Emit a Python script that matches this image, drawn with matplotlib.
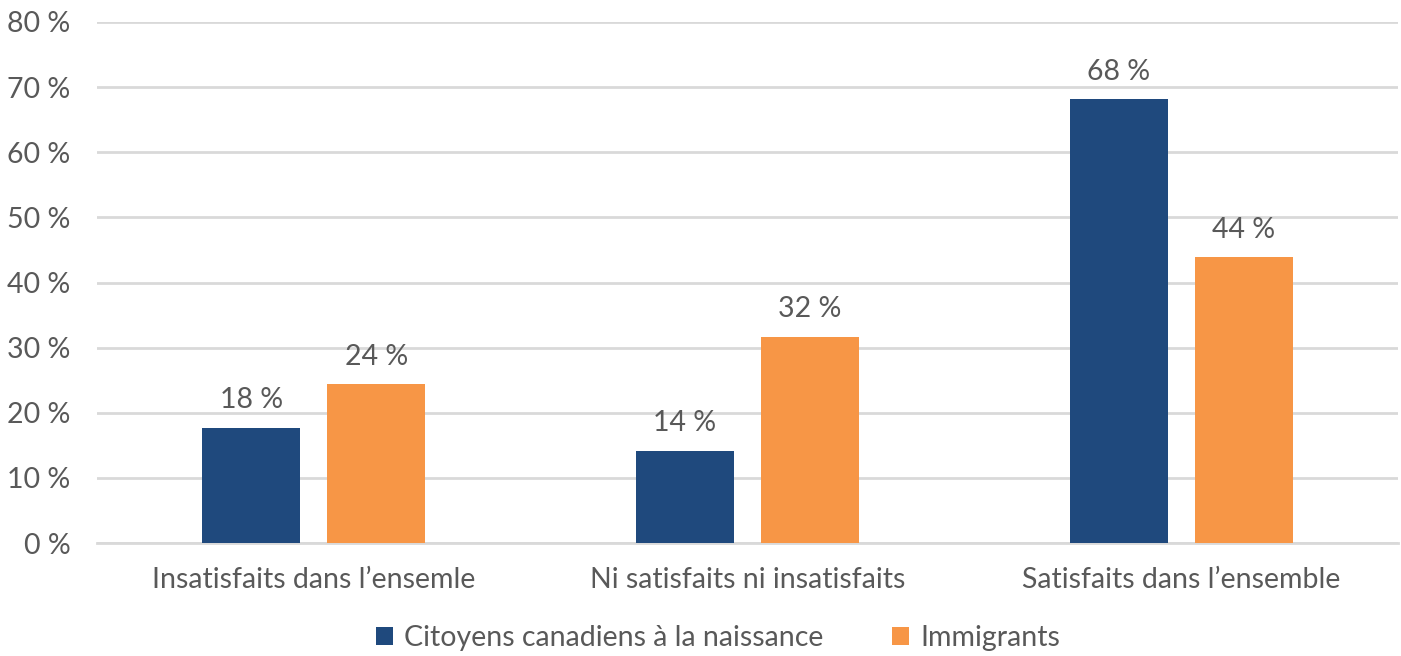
import numpy as np
import matplotlib.pyplot as plt

categories = ["Insatisfaits dans l\u2019ensemle", "Ni satisfaits ni insatisfaits", "Satisfaits dans l\u2019ensemble"]
series_names = ["Citoyens canadiens \u00e0 la naissance", "Immigrants"]
citoyens = [17.7, 14.2, 68.2]
immigrants = [24.4, 31.7, 43.9]
labels_cit = ["18 %", "14 %", "68 %"]
labels_imm = ["24 %", "32 %", "44 %"]
yticks = [0, 10, 20, 30, 40, 50, 60, 70, 80]

plt.rcParams['font.family'] = ['Lato', 'DejaVu Sans']
gris = '#595959'
fs = 20.5

fig = plt.figure(figsize=(14.01, 6.56), dpi=100)
ax = fig.add_axes([97/1401, 1-543/656, 1301/1401, 521/656])

x = np.arange(len(categories))
w = 0.226
off = 0.144
b1 = ax.bar(x - off, citoyens, w, color='#1f497d', label=series_names[0], zorder=3)
b2 = ax.bar(x + off, immigrants, w, color='#f79646', label=series_names[1], zorder=3)

for rects, labs in [(b1, labels_cit), (b2, labels_imm)]:
    for r, lab in zip(rects, labs):
        ax.text(r.get_x() + r.get_width()/2, r.get_height() + 2.2, lab,
                ha='center', va='bottom', fontsize=fs, color=gris)

ax.set_xlim(-0.5, 2.5)
ax.set_ylim(0, 80)
ax.set_yticks(yticks)
ax.set_yticklabels([f"{v} %" for v in yticks])
ax.set_xticks(x)
ax.set_xticklabels(categories)
ax.tick_params(axis='both', length=0, labelsize=fs, labelcolor=gris)
ax.tick_params(axis='y', pad=19)
ax.tick_params(axis='x', pad=17)
ax.grid(axis='y', color='#d9d9d9', linewidth=2, zorder=0)
for s in ['top', 'right', 'left']:
    ax.spines[s].set_visible(False)
ax.spines['bottom'].set_color('#d9d9d9')
ax.spines['bottom'].set_linewidth(2)

fig.legend(loc='center', bbox_to_anchor=(718/1401, 1-638/656), ncol=2, frameon=False,
           fontsize=fs, labelcolor=gris, handlelength=0.6, handleheight=0.6,
           handletextpad=0.4, columnspacing=2.4)

fig.savefig('out.png', dpi=100)
